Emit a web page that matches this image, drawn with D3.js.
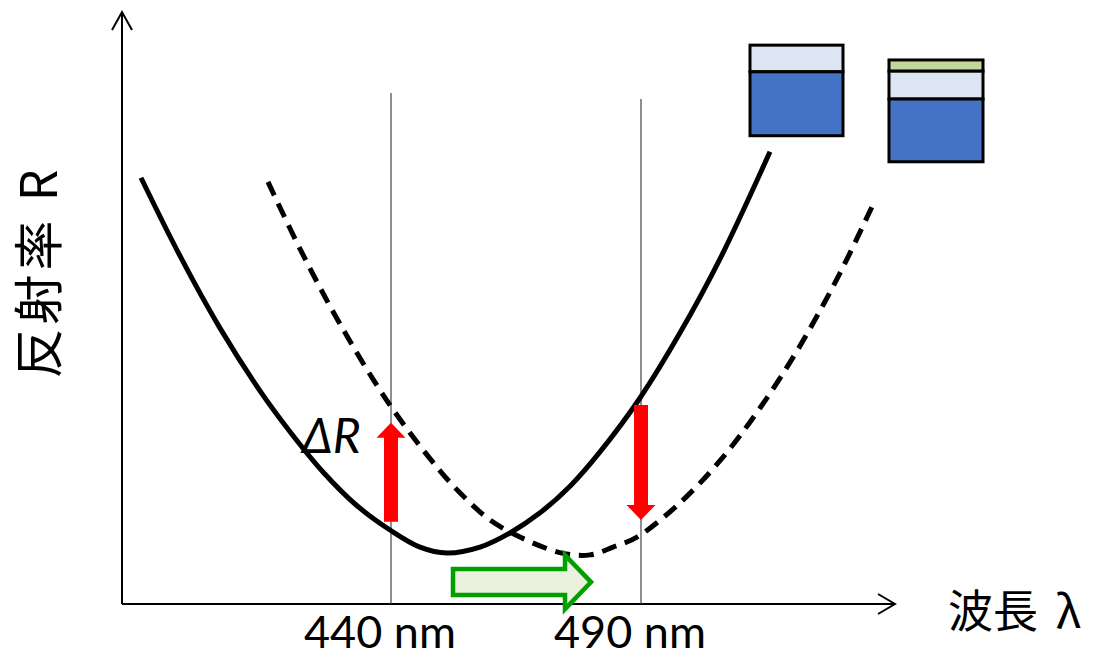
<!DOCTYPE html>
<html>
<head>
<meta charset="utf-8">
<script src="https://cdn.jsdelivr.net/npm/d3@7"></script>
<style>
  html, body { margin: 0; padding: 0; background: #fff; }
  svg { display: block; }
</style>
</head>
<body>
<svg id="chart" width="1098" height="658"></svg>
<script>
// ---- data (wavelength in nm, reflectance in arbitrary units 0-100) ----
const solidLambda = [390.0, 397.8, 405.8, 413.8, 419.8, 426.4, 433.2, 439.8, 445.8, 451.2, 457.8, 463.8, 469.8, 475.8, 481.8, 489.8, 497.8, 505.8, 515.8];
const solidR      = [72.0, 58.8, 46.6, 36.0, 29.1, 22.3, 16.6, 12.5, 9.6, 8.6, 9.6, 12.0, 15.4, 19.9, 25.7, 34.8, 45.8, 58.3, 76.4];

const dashedLambda = [415.4, 421.8, 429.8, 439.8, 449.8, 455.2, 459.8, 465.8, 474.2, 479.8, 484.4, 489.2, 497.8, 505.8, 513.8, 521.8, 529.8, 536.8];
const dashedR      = [71.3, 60.0, 47.3, 33.6, 22.5, 17.6, 14.2, 11.3, 8.6, 8.3, 9.6, 11.3, 17.1, 24.2, 33.1, 43.6, 55.9, 68.2];

const markerLambda = [440, 490];
const markerLabels = ["440 nm", "490 nm"];
const markerTopR   = [86.3, 85.3];

// reflectance change arrows at the marker wavelengths
const deltaFromR = [13.9, 33.6];
const deltaToR   = [30.6, 14.2];

// shift of the reflectance minimum
const shiftFrom = 452.4, shiftTo = 480.0, shiftR = 3.7;

// layer stacks (illustration): [lambdaLeft, lambdaRight] and layers top->bottom
const stackA = { l0: 511.8, l1: 530.4, layers: [
  { name: "film",      top: 94.4, bottom: 89.9 },
  { name: "substrate", top: 89.9, bottom: 79.1 } ] };
const stackB = { l0: 539.6, l1: 558.4, layers: [
  { name: "adsorbed",  top: 91.9, bottom: 90.0 },
  { name: "film",      top: 90.0, bottom: 85.3 },
  { name: "substrate", top: 85.3, bottom: 74.7 } ] };

const xAxisLabel = "波長 λ";
const yAxisLabel = "反射率 R";
const deltaLabel = "ΔR";

// ---- layout ----
const svg = d3.select("#chart");
const x = d3.scaleLinear().domain([386.2, 540.8]).range([122, 895]);
const y = d3.scaleLinear().domain([0, 100]).range([604, 12]);

const layerColor = { film: "#dce6f2", substrate: "#4472c4", adsorbed: "#c3d69b" };

// axes with open arrowheads
const axisG = svg.append("g").attr("stroke", "#000").attr("stroke-width", 2).attr("fill", "none");
axisG.append("line").attr("x1", x(386.2)).attr("y1", y(0)).attr("x2", x(386.2)).attr("y2", y(100));
axisG.append("path").attr("d", `M${x(386.2)-10},${y(100)+18} L${x(386.2)},${y(100)} L${x(386.2)+10},${y(100)+18}`);
axisG.append("line").attr("x1", x(386.2)).attr("y1", y(0)).attr("x2", x(540.8)).attr("y2", y(0));
axisG.append("path").attr("d", `M${x(540.8)-17},${y(0)-10} L${x(540.8)},${y(0)} L${x(540.8)-17},${y(0)+10}`);

// marker lines
svg.append("g").selectAll("line").data(markerLambda).join("line")
  .attr("x1", d => x(d)).attr("x2", d => x(d))
  .attr("y1", (d, i) => y(markerTopR[i])).attr("y2", y(0))
  .attr("stroke", "#444").attr("stroke-width", 1.2);

// marker labels
svg.append("g").selectAll("text").data(markerLabels).join("text")
  .attr("x", (d, i) => x(markerLambda[i]) - 11)
  .attr("y", 648)
  .attr("text-anchor", "middle")
  .attr("font-family", "Lato, 'Open Sans', sans-serif")
  .attr("font-size", 45)
  .attr("fill", "#000")
  .text(d => d);

// curves
const line = d3.line().x(d => x(d[0])).y(d => y(d[1])).curve(d3.curveCatmullRom.alpha(0.5));
svg.append("path").datum(d3.zip(solidLambda, solidR))
  .attr("d", line).attr("fill", "none").attr("stroke", "#000").attr("stroke-width", 5);
svg.append("path").datum(d3.zip(dashedLambda, dashedR))
  .attr("d", line).attr("fill", "none").attr("stroke", "#000").attr("stroke-width", 5)
  .attr("stroke-dasharray", "15,9");

// red arrows
function arrowPath(cx, yFrom, yTo, shaftW, headW, headL) {
  const dir = yTo < yFrom ? -1 : 1;
  const base = yTo - dir * headL;
  return `M${cx - shaftW/2},${yFrom} L${cx - shaftW/2},${base} L${cx - headW/2},${base} L${cx},${yTo} ` +
         `L${cx + headW/2},${base} L${cx + shaftW/2},${base} L${cx + shaftW/2},${yFrom} Z`;
}
svg.append("g").selectAll("path").data(markerLambda).join("path")
  .attr("d", (d, i) => arrowPath(x(d), y(deltaFromR[i]), y(deltaToR[i]), 14, 29, 15))
  .attr("fill", "#ff0000");

// green shift arrow
(function() {
  const x0 = x(shiftFrom), x1 = x(shiftTo), cy = y(shiftR);
  const bh = 13, hh = 27, hl = 26;
  const d = `M${x0},${cy-bh} L${x1-hl},${cy-bh} L${x1-hl},${cy-hh} L${x1},${cy} L${x1-hl},${cy+hh} L${x1-hl},${cy+bh} L${x0},${cy+bh} Z`;
  svg.append("path").attr("d", d).attr("fill", "#ebf1de").attr("stroke", "#00a000").attr("stroke-width", 4.5);
})();

// layer stacks
[stackA, stackB].forEach(s => {
  const g = svg.append("g");
  g.selectAll("rect").data(s.layers).join("rect")
    .attr("x", x(s.l0)).attr("width", x(s.l1) - x(s.l0))
    .attr("y", d => y(d.top)).attr("height", d => y(d.bottom) - y(d.top))
    .attr("fill", d => layerColor[d.name])
    .attr("stroke", "#000").attr("stroke-width", 3);
});

// ΔR label
svg.append("text").attr("x", 302).attr("y", 453)
  .attr("font-family", "Lato, 'Open Sans', sans-serif")
  .attr("font-size", 48).attr("font-style", "italic").attr("fill", "#000")
  .text(deltaLabel);

// axis titles
svg.append("text").attr("x", 948).attr("y", 628)
  .attr("font-family", "'Noto Sans CJK JP', sans-serif")
  .attr("font-size", 45).attr("word-spacing", 8).attr("fill", "#000")
  .text(xAxisLabel);

svg.append("text")
  .attr("transform", "translate(57,272) rotate(-90)")
  .attr("text-anchor", "middle")
  .attr("font-family", "'Noto Sans CJK JP', sans-serif")
  .attr("font-size", 50).attr("letter-spacing", 4).attr("fill", "#000")
  .text(yAxisLabel);
</script>
</body>
</html>
